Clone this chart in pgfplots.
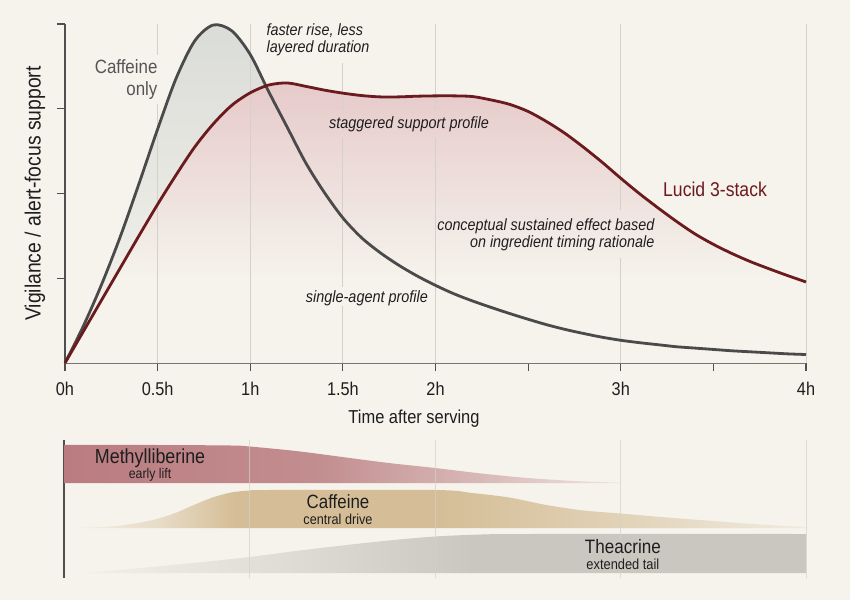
\documentclass[border=0pt]{standalone}
\usepackage{pgfplots}
\usepackage{pgfplotstable}
\pgfplotsset{compat=1.18}
\usepackage{fontspec}
\setmainfont{Liberation Sans}[FakeStretch=0.88]

\definecolor{bg}{HTML}{F5F3EC}
\definecolor{axc}{HTML}{4F4F4F}
\definecolor{gridc}{HTML}{D3D1CA}
\definecolor{cafc}{HTML}{4A4A4A}
\definecolor{lucid}{HTML}{6B1A1E}
\definecolor{pinkfill}{HTML}{E6CACA}
\definecolor{grayfill}{HTML}{DADCD8}
\definecolor{rose}{HTML}{BA7C80}
\definecolor{tan}{HTML}{D5BE97}
\definecolor{stone}{HTML}{C9C7C0}
\definecolor{txt}{HTML}{1E1E1E}
\definecolor{captxt}{HTML}{555555}

% vertical fades under the two response curves
\pgfdeclareverticalshading{redfade}{100bp}{color(0bp)=(bg); color(25bp)=(bg); color(40bp)=(bg); color(75bp)=(pinkfill); color(100bp)=(pinkfill)}
\pgfdeclareverticalshading{grayfade}{100bp}{color(0bp)=(bg); color(25bp)=(bg); color(45bp)=(grayfill!35!bg); color(75bp)=(grayfill); color(100bp)=(grayfill)}
% horizontal fades for the ingredient bands
\pgfdeclarehorizontalshading{methfade}{100bp}{color(0bp)=(rose); color(25bp)=(rose); color(48bp)=(rose!85!bg); color(62bp)=(rose!50!bg); color(75bp)=(rose!12!bg); color(100bp)=(rose!12!bg)}
\pgfdeclarehorizontalshading{caffade}{100bp}{color(0bp)=(tan!8!bg); color(25bp)=(tan!8!bg); color(31bp)=(tan!45!bg); color(36bp)=(tan); color(50bp)=(tan); color(60bp)=(tan!70!bg); color(75bp)=(tan!15!bg); color(100bp)=(tan!15!bg)}
\pgfdeclarehorizontalshading{theafade}{100bp}{color(0bp)=(stone!8!bg); color(25bp)=(stone!8!bg); color(40bp)=(stone!55!bg); color(52bp)=(stone); color(100bp)=(stone)}

% time (h) vs relative support
\pgfplotstableread{
t v
0.0 0
0.1 0.11
0.2 0.235
0.3 0.375
0.4 0.53
0.5 0.69
0.6 0.84
0.7 0.95
0.8 0.997
0.9 0.98
1.0 0.91
1.1 0.80
1.2 0.695
1.3 0.59
1.4 0.503
1.5 0.428
1.6 0.37
1.7 0.326
1.8 0.289
1.9 0.257
2.0 0.229
2.1 0.204
2.2 0.183
2.3 0.164
2.4 0.146
2.5 0.129
2.6 0.113
2.7 0.099
2.8 0.087
2.9 0.076
3.0 0.067
3.1 0.060
3.2 0.054
3.3 0.048
3.4 0.044
3.5 0.040
3.6 0.036
3.7 0.033
3.8 0.030
3.9 0.027
4.0 0.025
}\caffeineonly

\pgfplotstableread{
t v
0.0 0
0.1 0.094
0.2 0.188
0.3 0.282
0.4 0.376
0.5 0.468
0.6 0.555
0.7 0.637
0.8 0.705
0.9 0.76
1.0 0.797
1.1 0.82
1.2 0.826
1.3 0.816
1.4 0.805
1.5 0.796
1.6 0.789
1.7 0.785
1.8 0.785
1.9 0.787
2.0 0.788
2.1 0.788
2.2 0.786
2.3 0.776
2.4 0.763
2.5 0.742
2.6 0.712
2.7 0.677
2.8 0.636
2.9 0.592
3.0 0.545
3.1 0.50
3.2 0.458
3.3 0.418
3.4 0.381
3.5 0.35
3.6 0.323
3.7 0.299
3.8 0.278
3.9 0.258
4.0 0.239
}\lucidstack

\begin{document}
\begin{tikzpicture}
\useasboundingbox (0,0) rectangle (850pt,600pt);
\fill[bg] (0,0) rectangle (850pt,600pt);

\begin{axis}[
  at={(65pt,237pt)}, anchor=south west, scale only axis,
  width=741pt, height=339pt,
  xmin=0, xmax=4, ymin=0, ymax=1, clip=false,
  axis x line*=bottom, axis y line*=left,
  axis line style={axc, line width=1.3pt},
  xtick={0,0.5,1,1.5,2,2.5,3,3.5,4},
  xticklabels={0h,0.5h,1h,1.5h,2h,,3h,,4h},
  ytick={0.25,0.5,0.75,1}, yticklabels={},
  tick align=outside, major tick length=8pt,
  tick style={axc, line width=1.1pt},
  xticklabel style={font=\fontsize{18.5}{21}\selectfont, text=txt, yshift=-8pt},
]
\addplot[draw=none, shade, shading=grayfade, smooth] table[x=t, y=v] {\caffeineonly} \closedcycle;
\addplot[draw=none, shade, shading=redfade, smooth] table[x=t, y=v] {\lucidstack} \closedcycle;

% vertical guides, broken where annotations sit
\begin{scope}[gridc, line width=0.8pt]
\draw (axis cs:0.5,1) -- (axis cs:0.5,0.909);
\draw (axis cs:0.5,0.764) -- (axis cs:0.5,0);
\draw (axis cs:1,1) -- (axis cs:1,0);
\draw (axis cs:1.5,0.885) -- (axis cs:1.5,0.746);
\draw (axis cs:1.5,0.664) -- (axis cs:1.5,0.224);
\draw (axis cs:1.5,0.168) -- (axis cs:1.5,0);
\draw (axis cs:2,1) -- (axis cs:2,0.746);
\draw (axis cs:2,0.664) -- (axis cs:2,0);
\draw (axis cs:3,1) -- (axis cs:3,0.451);
\draw (axis cs:3,0.31) -- (axis cs:3,0);
\draw (axis cs:4,1) -- (axis cs:4,0);
\end{scope}

\addplot[cafc, line width=2.8pt, smooth] table[x=t, y=v] {\caffeineonly};
\addplot[lucid, line width=2.8pt, smooth] table[x=t, y=v] {\lucidstack};

\node[anchor=east, align=right, text=captxt, font=\fontsize{19.2}{22}\selectfont] at (axis cs:0.518,0.835) {Caffeine\\only};
\node[anchor=west, text=lucid, font=\fontsize{20}{23}\selectfont] at (axis cs:3.21,0.513) {Lucid 3-stack};
\node[anchor=west, align=left, text=txt, font=\itshape\fontsize{16.3}{17.5}\selectfont] at (axis cs:1.069,0.953) {faster rise, less\\layered duration};
\node[text=txt, font=\itshape\fontsize{16.4}{18}\selectfont] at (axis cs:1.857,0.705) {staggered support profile};
\node[anchor=east, align=right, text=txt, font=\itshape\fontsize{16.3}{17.5}\selectfont] at (axis cs:3.20,0.378) {conceptual sustained effect based\\on ingredient timing rationale};
\node[text=txt, font=\itshape\fontsize{16.4}{18}\selectfont] at (axis cs:1.63,0.192) {single-agent profile};
\node[text=txt, font=\fontsize{18.7}{21}\selectfont] at (axis cs:1.884,-0.165) {Time after serving};
\node[text=txt, rotate=90, font=\fontsize{22}{25}\selectfont] at (axis cs:-0.162,0.5) {Vigilance / alert-focus support};
\end{axis}

\begin{axis}[
  at={(64pt,22pt)}, anchor=south west, scale only axis,
  width=742pt, height=138pt,
  xmin=0, xmax=4, ymin=0, ymax=138, clip=false,
  axis x line=none, axis y line*=left,
  xtick=\empty, ytick=\empty,
  axis line style={axc, line width=1.3pt},
]
% Methylliberine band
\addplot[draw=none, shade, shading=methfade, smooth] coordinates {
(0,133) (0.5,133) (0.9,132.5) (1.0,131.5) (1.25,127) (1.5,121) (1.75,115)
(2.0,110) (2.25,104.5) (2.5,100) (2.75,97) (3.0,95.3)}
-- (axis cs:3,95) -- (axis cs:0,95) -- cycle;
% Caffeine band
\addplot[draw=none, shade, shading=caffade, smooth] coordinates {
(0.05,50) (0.25,51.5) (0.4,55) (0.5,59) (0.6,65) (0.7,73) (0.8,80.5) (0.9,85.5)
(1.0,87.5) (1.1,88) (2.0,88) (2.2,85) (2.4,80.5) (2.6,73) (2.8,67.5) (3.0,64.5)
(3.25,60.5) (3.5,57) (3.75,53.5) (4.0,51)}
-- (axis cs:4,50) -- (axis cs:0.05,50) -- cycle;
% Theacrine band
\addplot[draw=none, shade, shading=theafade, smooth] coordinates {
(0.1,5) (0.3,8) (0.5,11.5) (0.75,16) (1.0,21) (1.25,27) (1.5,32.5) (1.75,37.5)
(2.0,41.5) (2.25,43.5) (2.5,44) (4.0,44)}
-- (axis cs:4,5) -- (axis cs:0.1,5) -- cycle;

\begin{scope}[gridc, line width=0.8pt, opacity=0.7]
\draw (axis cs:1,0) -- (axis cs:1,138);
\draw (axis cs:2,0) -- (axis cs:2,138);
\draw (axis cs:3,0) -- (axis cs:3,138);
\draw (axis cs:4,0) -- (axis cs:4,138);
\end{scope}

\node[text=txt, font=\fontsize{20.3}{22}\selectfont] at (axis cs:0.464,120) {Methylliberine};
\node[text=txt, font=\fontsize{14}{16}\selectfont] at (axis cs:0.464,103) {early lift};
\node[text=txt, font=\fontsize{19.2}{22}\selectfont] at (axis cs:1.477,76) {Caffeine};
\node[text=txt, font=\fontsize{14.4}{16}\selectfont] at (axis cs:1.477,59) {central drive};
\node[text=txt, font=\fontsize{19.4}{22}\selectfont] at (axis cs:3.013,31) {Theacrine};
\node[text=txt, font=\fontsize{14.6}{16}\selectfont] at (axis cs:3.013,14) {extended tail};
\end{axis}
\end{tikzpicture}
\end{document}
